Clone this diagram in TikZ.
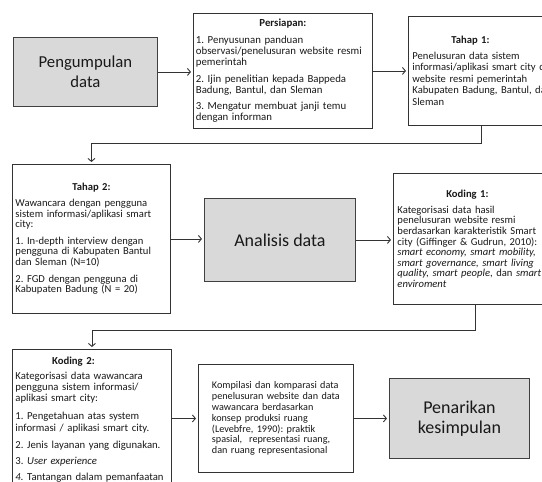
\documentclass[tikz,border=0pt]{standalone}
\usepackage{fontspec}
\setmainfont{Carlito}
\usetikzlibrary{arrows.meta}
\frenchspacing

\tikzset{
  kotak/.style={draw=black!80, line width=0.9pt, anchor=north west, inner ysep=0pt,
    align=left, text=black!90, font=\fontsize{10.6}{10.6}\selectfont},
  kotakabu/.style={draw=black!75, line width=0.9pt, fill=black!15, anchor=north west,
    align=center, text=black!90, font=\fontsize{18}{20}\selectfont},
  panah/.style={draw=black!80, line width=0.9pt,
    -{Straight Barb[length=3pt,width=7pt]}, shorten >=2pt},
}
\newcommand{\judul}[2]{\makebox[#1]{\bfseries #2}}

\begin{document}
\begin{tikzpicture}[x=1pt,y=-1pt]
  \useasboundingbox (0,0) rectangle (542,482);
  \clip (0,0) rectangle (542,482);
  % baris atas
  \node[kotakabu, minimum width=144pt, minimum height=69pt, font=\fontsize{16.7}{20}\selectfont]
    (pengumpulan) at (13,37) {Pengumpulan\\data};
  \node[kotak, inner xsep=2.5pt, text width=174pt, minimum height=115pt,
        font=\fontsize{10.8}{11}\selectfont] (persiapan) at (193,13)
    {\judul{174pt}{Persiapan:}\\[6pt]
     1. Penyusunan panduan\\observasi/penelusuran website resmi\\pemerintah\\[6pt]
     2. Ijin penelitian kepada Bappeda\\Badung, Bantul, dan Sleman\\[5pt]
     3. Mengatur membuat janji temu\\dengan informan};
  \node[kotak, inner xsep=4pt, text width=148pt, minimum height=109pt,
        font=\fontsize{10.6}{11.5}\selectfont] (tahap1) at (408,16)
    {\judul{116pt}{Tahap 1:}\\[4pt]
     Penelusuran data sistem\\informasi/aplikasi smart city di\\website resmi pemerintah\\Kabupaten Badung, Bantul, dan\\Sleman};
  % baris tengah
  \node[kotak, inner xsep=3pt, text width=152pt, minimum height=149pt] (tahap2) at (12,164)
    {\judul{152pt}{Tahap 2:}\\[5pt]
     Wawancara dengan pengguna\\sistem informasi/aplikasi smart\\city:\\[6pt]
     1. In-depth interview dengan\\pengguna di Kabupaten Bantul\\dan Sleman (N=10)\\[6pt]
     2. FGD dengan pengguna di\\Kabupaten Badung (N = 20)};
  \node[kotakabu, minimum width=151pt, minimum height=83pt] (analisis) at (204,198) {Analisis data};
  \node[kotak, inner xsep=4pt, text width=155pt, minimum height=131pt] (koding1) at (393,173)
    {\judul{140pt}{Koding 1:}\\[5pt]
     Kategorisasi data hasil\\penelusuran website resmi\\berdasarkan karakteristik Smart\\city (Giffinger \& Gudrun, 2010):\\
     \emph{smart economy, smart mobility,}\\\emph{smart governance, smart living}\\
     \emph{quality, smart people}, dan \emph{smart}\\\emph{enviroment}};
  % baris bawah
  \node[kotak, inner xsep=3pt, text width=153pt, minimum height=140pt,
        font=\fontsize{10.7}{11.3}\selectfont] (koding2) at (12,349)
    {\judul{116pt}{Koding 2:}\\[4pt]
     Kategorisasi data wawancara\\pengguna sistem informasi/\\aplikasi smart city:\\[6.5pt]
     1. Pengetahuan atas system\\informasi / aplikasi smart city.\\[6.5pt]
     2. Jenis layanan yang digunakan.\\[4.5pt]
     3. \emph{User experience}\\[4.5pt]
     \emph{4.} Tantangan dalam pemanfaatan};
  \node[kotak, inner xsep=13.5pt, text width=128pt, minimum height=108pt,
        font=\fontsize{10.2}{10.9}\selectfont] (kompilasi) at (198,364)
    {Kompilasi dan komparasi data\\penelusuran website dan data\\wawancara berdasarkan\\konsep produksi ruang\\
     (Levebfre, 1990): praktik\\spasial,\ \ representasi ruang,\\dan ruang representasional};
  \node[kotakabu, minimum width=140pt, minimum height=80pt] (penarikan) at (389,378) {Penarikan\\kesimpulan};
  % panah
  \draw[panah] (pengumpulan.east) -- (pengumpulan.east -| persiapan.west);
  \draw[panah] (persiapan.east) -- (persiapan.east -| tahap1.west);
  \draw[panah] ([xshift=-5pt]tahap1.south) -- ++(0,18) -| (tahap2.north);
  \draw[panah] (tahap2.east) -- (tahap2.east -| analisis.west);
  \draw[panah] (analisis.east) -- (analisis.east -| koding1.west);
  \draw[panah] (koding1.south) -- ++(0,26) -| (koding2.north);
  \draw[panah] (koding2.east |- kompilasi.west) -- (kompilasi.west);
  \draw[panah] (kompilasi.east) -- (kompilasi.east -| penarikan.west);
\end{tikzpicture}
\end{document}
